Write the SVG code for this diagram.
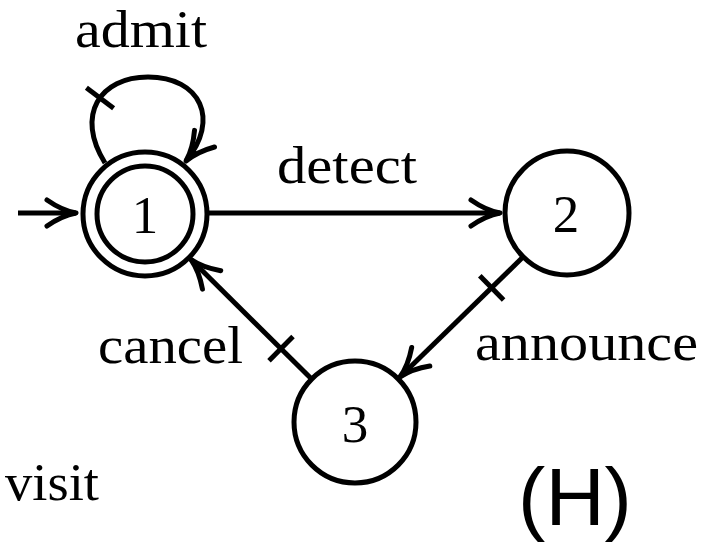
<svg xmlns="http://www.w3.org/2000/svg" width="704" height="542" viewBox="0 0 704 542">
  <style>
    .state { fill: #fff; stroke: #000; stroke-width: 5; }
    .edge { fill: none; stroke: #000; stroke-width: 5; }
    .tick { fill: none; stroke: #000; stroke-width: 5; }
    .num { font-family: "Liberation Serif", "DejaVu Serif", serif; font-size: 53px; text-anchor: middle; fill: #000; }
    .lbl { font-family: "Liberation Serif", "DejaVu Serif", serif; font-size: 53px; fill: #000; }
    .tag { font-family: "Liberation Sans", Arial, sans-serif; font-size: 82px; text-anchor: middle; fill: #000; }
  </style>
  <defs>
    <!-- curved open arrowhead, drawn in user units so every edge gets the same size -->
    <marker id="head" viewBox="-36 -20 40 40" refX="0" refY="0" markerWidth="40" markerHeight="40" markerUnits="userSpaceOnUse" orient="auto" overflow="visible">
      <path d="M-29,-13 C-19,-6 -8,-1.5 0,0 C-8,1.5 -19,6 -29,13" fill="none" stroke="#000" stroke-width="5" stroke-linecap="round" stroke-linejoin="round"/>
      <path d="M-14,-3 L0,0 L-14,3 Z" fill="#000"/>
    </marker>
  </defs>

  <g id="connectors">
    <!-- initial arrow into state 1 -->
    <line class="edge" x1="18" y1="213" x2="76" y2="213" stroke-width="7.5" marker-end="url(#head)"/>
    <!-- self loop on state 1 -->
    <path class="edge" d="M105,163 C75,115 100,77 148,77 C201,77 220,120 186,161" marker-end="url(#head)"/>
    <line class="tick" x1="86.4" y1="87.8" x2="113.6" y2="108.2"/>
    <!-- 1 -> 2 -->
    <line class="edge" x1="207" y1="213" x2="500" y2="213" stroke-width="6" marker-end="url(#head)"/>
    <!-- 2 -> 3 -->
    <line class="edge" x1="523" y1="257" x2="400" y2="377" marker-end="url(#head)"/>
    <line class="tick" x1="479.8" y1="275.8" x2="503.6" y2="300"/>
    <!-- 3 -> 1 -->
    <line class="edge" x1="311.6" y1="379" x2="191" y2="259.5" marker-end="url(#head)"/>
    <line class="tick" x1="269" y1="360.8" x2="293" y2="336.6"/>
  </g>

  <g id="edge-labels">
    <text class="lbl" x="75" y="47" textLength="132" lengthAdjust="spacingAndGlyphs">admit</text>
    <text class="lbl" x="277" y="183" textLength="140" lengthAdjust="spacingAndGlyphs">detect</text>
    <text class="lbl" x="98" y="363" textLength="145" lengthAdjust="spacingAndGlyphs">cancel</text>
    <text class="lbl" x="475" y="360" textLength="223" lengthAdjust="spacingAndGlyphs">announce</text>
  </g>

  <g id="node-1">
    <circle class="state" cx="145" cy="214" r="62"/>
    <circle class="state" cx="145" cy="214" r="48"/>
    <text class="num" x="145" y="233">1</text>
  </g>
  <g id="node-2">
    <circle class="state" cx="567" cy="213" r="62"/>
    <text class="num" x="566" y="232">2</text>
  </g>
  <g id="node-3">
    <circle class="state" cx="355" cy="422" r="61"/>
    <text class="num" x="355" y="442">3</text>
  </g>

  <g id="notes">
    <text class="lbl" x="5" y="500" textLength="94" lengthAdjust="spacingAndGlyphs">visit</text>
    <text class="tag" x="575" y="525">(H)</text>
  </g>
</svg>
